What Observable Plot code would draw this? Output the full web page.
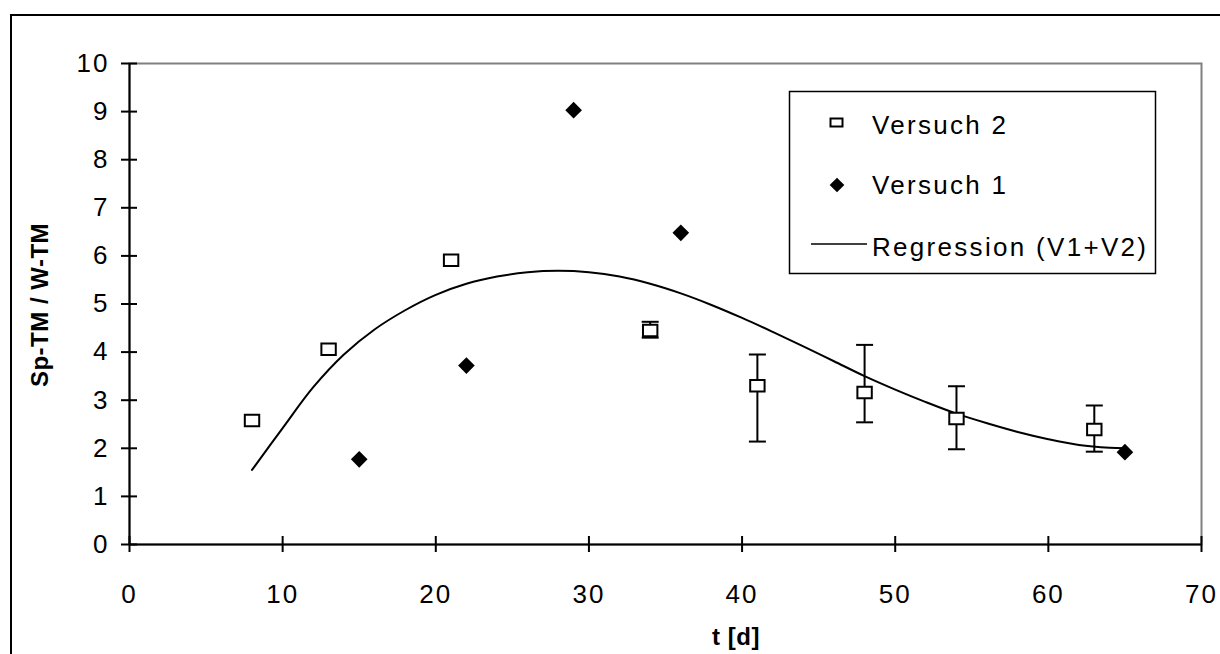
<!DOCTYPE html>
<html><head><meta charset="utf-8">
<script src="https://cdn.jsdelivr.net/npm/d3@7"></script>
<script src="https://cdn.jsdelivr.net/npm/@observablehq/plot@0.6"></script>
<style>
html,body{margin:0;padding:0;background:#fff;}
#chart{position:relative;width:1220px;height:654px;overflow:hidden;}
</style></head><body><div id="chart"></div>
<script>
// ---- data ----
const xTicks = [0,10,20,30,40,50,60,70];
const yTicks = [0,1,2,3,4,5,6,7,8,9,10];
const xTitle = "t [d]";
const yTitle = "Sp-TM / W-TM";
const legendLabels = ["Versuch 2","Versuch 1","Regression (V1+V2)"];

// Versuch 2 (open squares, with error bars)
const v2T  = [8, 13, 21, 34, 41, 48, 54, 63];
const v2Y  = [2.58, 4.06, 5.91, 4.45, 3.30, 3.16, 2.62, 2.39];
const v2Lo = [null, null, null, 4.30, 2.14, 2.54, 1.98, 1.93];
const v2Hi = [null, null, null, 4.63, 3.95, 4.15, 3.29, 2.89];

// Versuch 1 (filled diamonds)
const v1T = [15, 22, 29, 36, 65];
const v1Y = [1.77, 3.72, 9.03, 6.48, 1.92];

// Regression curve
const regT = [8,10,12,14,16,18,20,22,24,26,28,30,32,34,36,38,40,42,44,46,48,50,52,54,56,58,60,62,64,65];
const regY = [1.55,2.42,3.27,3.95,4.47,4.87,5.19,5.42,5.57,5.66,5.69,5.66,5.57,5.42,5.22,4.98,4.71,4.42,4.12,3.81,3.50,3.22,2.96,2.72,2.52,2.34,2.19,2.07,2.01,2.00];

// ---- build ----
const W = 1220, H = 654;
const FONT = '"Liberation Sans", Arial, Helvetica, sans-serif';
const mL = 129, mR = 19, mT = 63, mB = 110;

const hline = {draw(ctx, size){ const w = Math.sqrt(size/Math.PI); ctx.moveTo(-w,0); ctx.lineTo(w,0); }};
const rectSym = {draw(ctx, size){ const r = Math.sqrt(size/Math.PI); const h = r*0.8; ctx.rect(-r,-h,2*r,2*h); }};

const v2 = v2T.map((t,i)=>({t, y:v2Y[i], lo:v2Lo[i], hi:v2Hi[i]}));
const err = v2.filter(d => d.lo != null);
const v1 = v1T.map((t,i)=>({t, y:v1Y[i]}));
const reg = regT.map((t,i)=>({t, y:regY[i]}));

const plot = Plot.plot({
  width: W, height: H,
  marginLeft: mL, marginRight: mR, marginTop: mT, marginBottom: mB,
  style: {fontFamily: FONT, fontSize: "26px", color: "#000", background: "#fff", letterSpacing: "2px"},
  x: {domain: [0,70], label: null},
  y: {domain: [0,10], label: null},
  marks: [
    Plot.frame({stroke: "#808080", strokeWidth: 2}),
    Plot.axisX(xTicks, {tickSize: 16, dy: -8, fill: "none", stroke: "black", strokeWidth: 2, label: null}),
    Plot.axisX(xTicks, {tickSize: 0, tickPadding: 40, label: null, fontSize: 26, tickFormat: d => String(d)}),
    Plot.axisY(yTicks, {tickSize: 16, dx: 8, fill: "none", stroke: "black", strokeWidth: 2, label: null}),
    Plot.axisY(yTicks, {tickSize: 0, tickPadding: 20, label: null, fontSize: 26, tickFormat: d => String(d)}),
    Plot.ruleX([0], {stroke: "black", strokeWidth: 2}),
    Plot.ruleY([0], {stroke: "black", strokeWidth: 2}),
    Plot.ruleX(err, {x: "t", y1: "lo", y2: "hi", stroke: "black", strokeWidth: 2}),
    Plot.dot(err, {x: "t", y: "lo", symbol: hline, r: 8.5, stroke: "black", strokeWidth: 2}),
    Plot.dot(err, {x: "t", y: "hi", symbol: hline, r: 8.5, stroke: "black", strokeWidth: 2}),
    Plot.line(reg, {x: "t", y: "y", curve: "catmull-rom", stroke: "black", strokeWidth: 2}),
    Plot.dot(v2, {x: "t", y: "y", symbol: rectSym, r: 7.2, stroke: "black", fill: "white", strokeWidth: 2}),
    Plot.dot(v1, {x: "t", y: "y", symbol: "diamond2", r: 7.5, fill: "black", stroke: "none"})
  ]
});

document.getElementById("chart").appendChild(plot);
const svg = d3.select(plot);

// outer frame (extends past the picture on right and bottom)
svg.append("rect").attr("x", 11).attr("y", 15).attr("width", 1400).attr("height", 1000)
  .attr("fill", "none").attr("stroke", "black").attr("stroke-width", 2);

// axis titles
svg.append("text").text(xTitle)
  .attr("x", 736).attr("y", 645).attr("text-anchor", "middle")
  .style("font-family", FONT).style("font-weight", "bold").style("font-size", "24px").style("letter-spacing", "0.5px");
svg.append("text").text(yTitle)
  .attr("transform", "translate(48,305) rotate(-90)").attr("text-anchor", "middle")
  .style("font-family", FONT).style("font-weight", "bold").style("font-size", "24px").style("letter-spacing", "0.5px");

// legend
const lg = svg.append("g");
lg.append("rect").attr("x", 789.5).attr("y", 91.5).attr("width", 366).attr("height", 182)
  .attr("fill", "white").attr("stroke", "black").attr("stroke-width", 1.5);
lg.append("rect").attr("x", 830.5).attr("y", 118.5).attr("width", 12).attr("height", 8)
  .attr("fill", "white").attr("stroke", "black").attr("stroke-width", 2);
lg.append("path").attr("d", d3.symbol(d3.symbolDiamond2, Math.PI*6.6*6.6)()).attr("transform", "translate(837,185)").attr("fill", "black");
lg.append("line").attr("x1", 811).attr("x2", 867).attr("y1", 244).attr("y2", 244).attr("stroke", "black").attr("stroke-width", 1.5);
const ly = [134, 194, 256];
legendLabels.forEach((s,i) => {
  lg.append("text").text(s).attr("x", 872).attr("y", ly[i]).attr("text-anchor", "start")
    .style("font-family", FONT).style("font-size", "26px").style("letter-spacing", "2.3px");
});
</script>
</body></html>
